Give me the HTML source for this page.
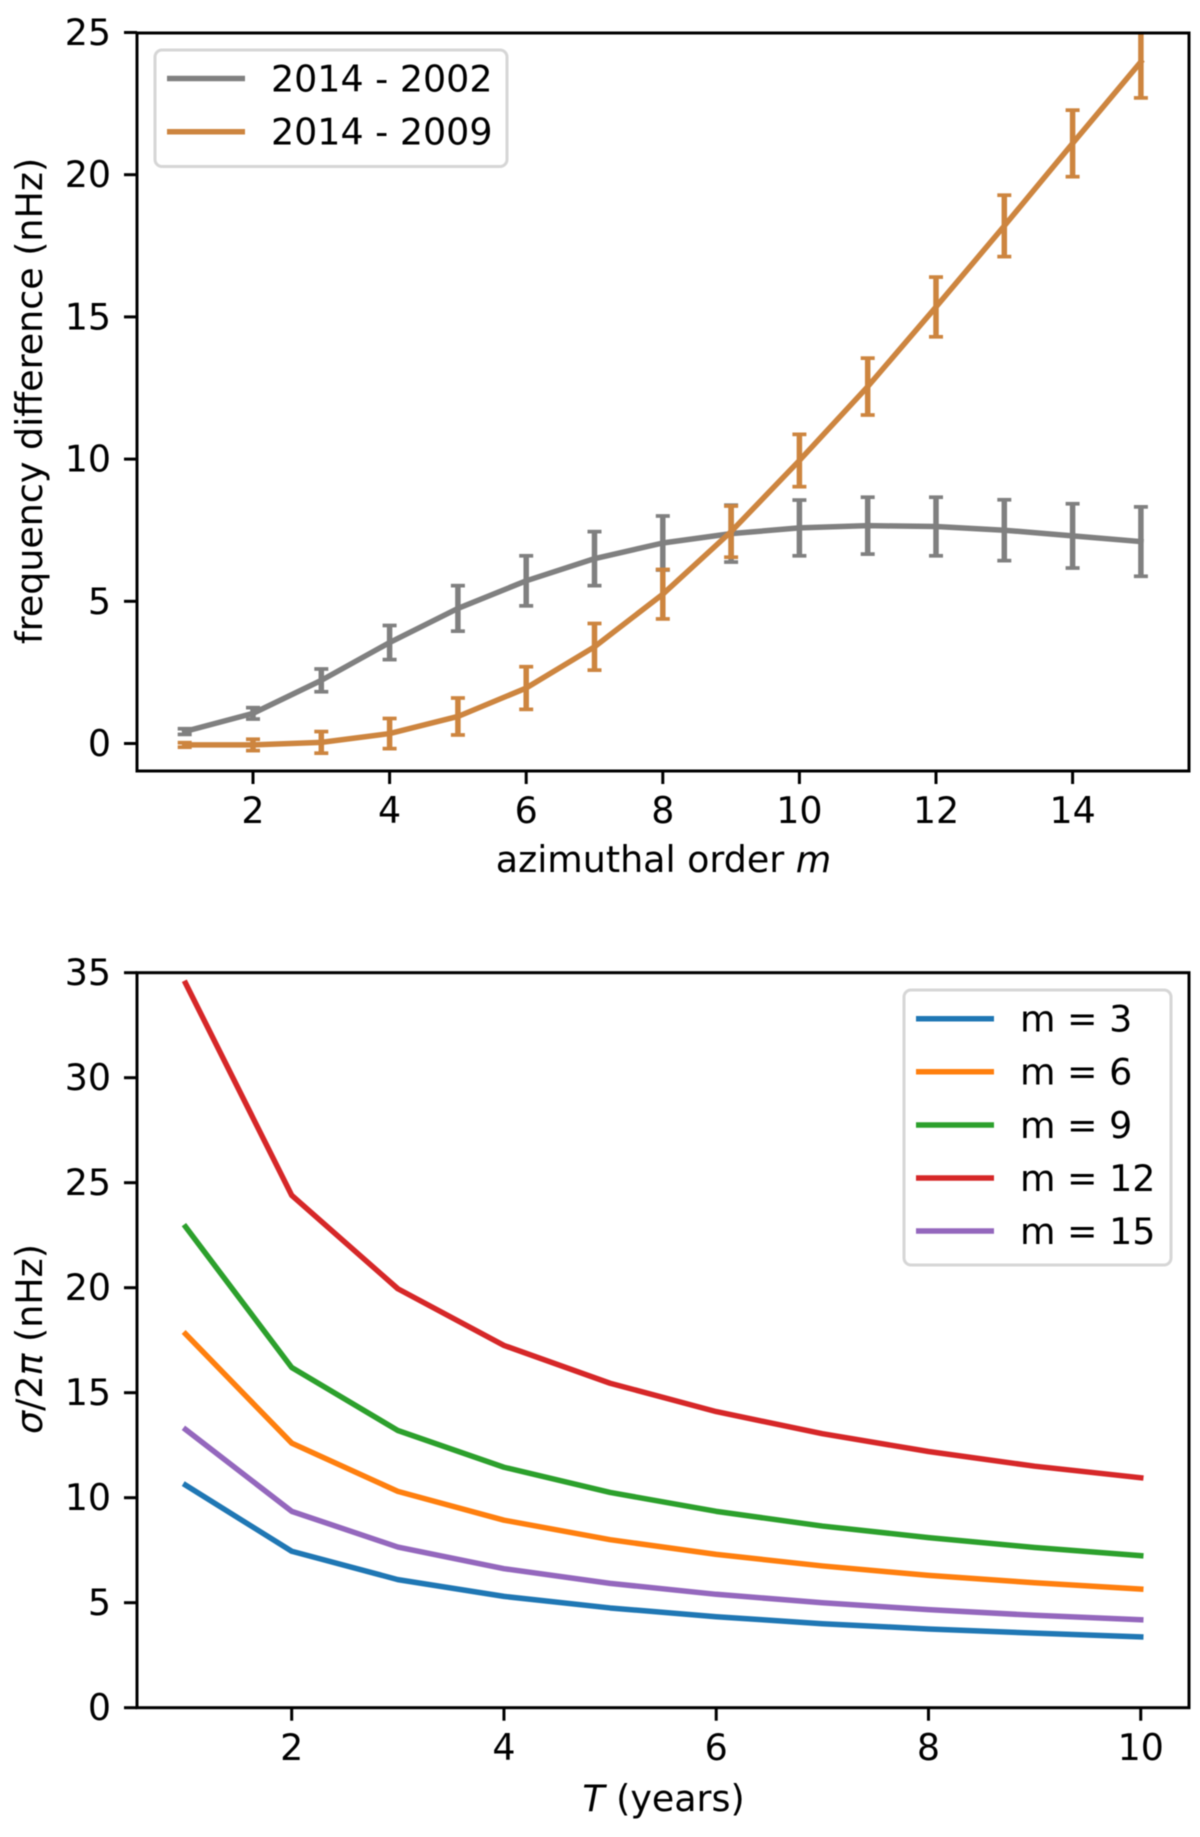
<!DOCTYPE html>
<html lang="en">
<head>
<meta charset="utf-8">
<title>Frequency difference and sigma charts</title>
<style>
html,body{margin:0;padding:0;background:#fff;}
svg{display:block;filter:blur(0.5px);}
text{font-family:"DejaVu Sans","Liberation Sans",sans-serif;font-size:36.4px;fill:#000;}
</style>
</head>
<body>
<svg id="fig" xmlns="http://www.w3.org/2000/svg" width="1200" height="1837" viewBox="0 0 1200 1837">
  <defs>
    <clipPath id="clip-top"><rect x="137" y="33" width="1052" height="738"/></clipPath>
    <clipPath id="clip-bottom"><rect x="137" y="972.7" width="1052" height="735"/></clipPath>
  </defs>
  <rect x="0" y="0" width="1200" height="1837" fill="#fff"/>
  <g id="top-marks" clip-path="url(#clip-top)"></g>
  <g id="top-ticks"></g>
  <rect x="137" y="33" width="1052" height="738" fill="none" stroke="#000" stroke-width="3"/>
  <g id="bottom-marks" clip-path="url(#clip-bottom)"></g>
  <g id="bottom-ticks"></g>
  <rect x="137" y="972.7" width="1052" height="735" fill="none" stroke="#000" stroke-width="3"/>

  <text x="663.5" y="872" text-anchor="middle">azimuthal order <tspan font-style="italic">m</tspan></text>
  <text transform="translate(42,401) rotate(-90)" text-anchor="middle">frequency difference (nHz)</text>
  <text x="663.500" y="1811" text-anchor="middle"><tspan font-style="italic">T</tspan> (years)</text>
  <text transform="translate(42,1339) rotate(-90)" text-anchor="middle"><tspan font-style="italic">σ</tspan>/2<tspan font-style="italic">π</tspan> (nHz)</text>

  <g>
    <rect x="155" y="50" width="352" height="116.500" rx="7" ry="7" fill="#fff" fill-opacity="0.8" stroke="#d6d6d6" stroke-width="3"/>
    <line x1="167" x2="245" y1="78.500" y2="78.500" stroke="#808080" stroke-width="5.500"/>
    <text x="271" y="91.500">2014 - 2002</text>
    <line x1="167" x2="245" y1="131.700" y2="131.700" stroke="#cd853f" stroke-width="5.500"/>
    <text x="271" y="144.700">2014 - 2009</text>
  </g>
  <g>
    <rect x="904" y="990" width="267" height="275" rx="7" ry="7" fill="#fff" fill-opacity="0.8" stroke="#d6d6d6" stroke-width="3"/>
    <line x1="916" x2="994" y1="1018.700" y2="1018.700" stroke="#1f77b4" stroke-width="5.500"/>
    <text x="1020" y="1031.700">m = 3</text>
    <line x1="916" x2="994" y1="1071.700" y2="1071.700" stroke="#ff7f0e" stroke-width="5.500"/>
    <text x="1020" y="1084.700">m = 6</text>
    <line x1="916" x2="994" y1="1125" y2="1125" stroke="#2ca02c" stroke-width="5.500"/>
    <text x="1020" y="1138">m = 9</text>
    <line x1="916" x2="994" y1="1178" y2="1178" stroke="#d62728" stroke-width="5.500"/>
    <text x="1020" y="1191">m = 12</text>
    <line x1="916" x2="994" y1="1231" y2="1231" stroke="#9467bd" stroke-width="5.500"/>
    <text x="1020" y="1244">m = 15</text>
  </g>
</svg>
<script>
// Top chart data
const orderM = [1,2,3,4,5,6,7,8,9,10,11,12,13,14,15];
const diff2002 = [0.42,1.06,2.22,3.55,4.75,5.72,6.5,7.05,7.38,7.58,7.66,7.63,7.5,7.3,7.1];
const err2002 = [0.1,0.2,0.4,0.6,0.8,0.88,0.95,0.95,1.0,0.98,1.0,1.03,1.07,1.13,1.22];
const diff2009 = [-0.05,-0.05,0.04,0.35,0.95,1.95,3.4,5.25,7.45,9.95,12.55,15.35,18.2,21.1,23.97];
const err2009 = [0.08,0.2,0.38,0.53,0.65,0.75,0.82,0.87,0.9,0.92,1.0,1.05,1.08,1.17,1.27];
const topXTicks = [2,4,6,8,10,12,14];
const topYTicks = [0,5,10,15,20,25];

// Bottom chart data
const periodT = [1,2,3,4,5,6,7,8,9,10];
const sigmaM3 = [10.6,7.45,6.1,5.3,4.75,4.33,4.0,3.75,3.55,3.37];
const sigmaM6 = [17.8,12.6,10.3,8.93,8.0,7.3,6.75,6.3,5.95,5.65];
const sigmaM9 = [22.9,16.2,13.2,11.45,10.25,9.35,8.65,8.1,7.63,7.24];
const sigmaM12 = [34.5,24.4,19.95,17.25,15.45,14.1,13.05,12.2,11.5,10.95];
const sigmaM15 = [13.25,9.35,7.65,6.62,5.92,5.4,5.0,4.67,4.4,4.19];
const bottomXTicks = [2,4,6,8,10];
const bottomYTicks = [0,5,10,15,20,25,30,35];

const NS = 'http://www.w3.org/2000/svg';
function make(tag, parent, attrs) {
  const el = document.createElementNS(NS, tag);
  for (const k in attrs) el.setAttribute(k, attrs[k]);
  parent.appendChild(el);
  return el;
}
// Axis functions
const topX = v => 253 + (v - 2) * 68.3;
const topY = v => 743.5 - v * 28.44;
const botX = v => 291.7 + (v - 2) * 106.13;
const botY = v => 1707.7 - v * 21;

function drawTicks(group, xTicks, yTicks, xFn, yFn, axisBottom, axisLeft, labelBaseline) {
  xTicks.forEach(t => {
    const tick = make('line', group, {x1:xFn(t), x2:xFn(t), y1:axisBottom, y2:axisBottom+13, stroke:'#000','stroke-width':3});
    
    
    const label = make('text', group, {x:xFn(t), y:labelBaseline, 'text-anchor':'middle'});
    label.textContent = String(t);
    
    
  });
  yTicks.forEach(t => {
    const tick = make('line', group, {x1:axisLeft-13, x2:axisLeft, y1:yFn(t), y2:yFn(t), stroke:'#000','stroke-width':3});
    
    
    const label = make('text', group, {x:axisLeft-26, y:yFn(t)+12.5, 'text-anchor':'end'});
    label.textContent = String(t);
    
    
  });
}

function drawLine(group, xs, ys, xFn, yFn, color) {
  const pts = xs.map((x, i) => xFn(x).toFixed(2) + ',' + yFn(ys[i]).toFixed(2)).join(' ');
  const line = make('polyline', group, {points:pts, fill:'none', stroke:color, 'stroke-width':5.5, 'stroke-linejoin':'round', 'stroke-linecap':'square'});
  
  
}

function drawErrors(group, xs, ys, errs, xFn, yFn, color) {
  xs.forEach((x, i) => {
    const px = xFn(x), hi = yFn(ys[i] + errs[i]), lo = yFn(ys[i] - errs[i]);
    const bar = make('line', group, {x1:px, x2:px, y1:hi, y2:lo, stroke:color, 'stroke-width':5.5});
    
    
    [hi, lo].forEach(cy => {
      const cap = make('line', group, {x1:px-7, x2:px+7, y1:cy, y2:cy, stroke:color, 'stroke-width':3.7});
      
      
    });
  });
}

const topMarks = document.getElementById('top-marks');
const bottomMarks = document.getElementById('bottom-marks');

drawTicks(document.getElementById('top-ticks'), topXTicks, topYTicks, topX, topY, 771, 137, 823);
drawTicks(document.getElementById('bottom-ticks'), bottomXTicks, bottomYTicks, botX, botY, 1707.7, 137, 1760);

drawErrors(topMarks, orderM, diff2002, err2002, topX, topY, '#808080');
drawLine(topMarks, orderM, diff2002, topX, topY, '#808080');
drawErrors(topMarks, orderM, diff2009, err2009, topX, topY, '#cd853f');
drawLine(topMarks, orderM, diff2009, topX, topY, '#cd853f');

drawLine(bottomMarks, periodT, sigmaM3, botX, botY, '#1f77b4');
drawLine(bottomMarks, periodT, sigmaM6, botX, botY, '#ff7f0e');
drawLine(bottomMarks, periodT, sigmaM9, botX, botY, '#2ca02c');
drawLine(bottomMarks, periodT, sigmaM12, botX, botY, '#d62728');
drawLine(bottomMarks, periodT, sigmaM15, botX, botY, '#9467bd');
</script>
</body>
</html>
